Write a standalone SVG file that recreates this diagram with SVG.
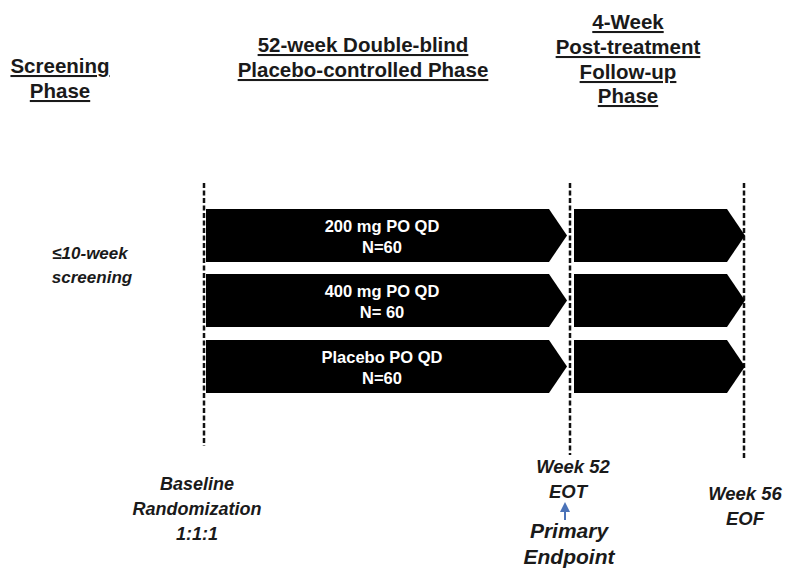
<svg xmlns="http://www.w3.org/2000/svg" width="785" height="572" viewBox="0 0 785 572">
<defs>
<style>
.hdr{font-family:"Liberation Sans",Arial,sans-serif;font-weight:bold;font-size:20.5px;fill:#1a1a1a;text-anchor:middle;text-decoration:underline}
.lbl{font-family:"Liberation Sans",Arial,sans-serif;font-weight:bold;font-size:16.5px;fill:#fff;text-anchor:middle}
.it{font-family:"Liberation Sans",Arial,sans-serif;font-weight:bold;font-style:italic;font-size:18.5px;fill:#1a1a1a;text-anchor:middle}
.big{font-family:"Liberation Sans",Arial,sans-serif;font-weight:bold;font-style:italic;font-size:21px;fill:#1a1a1a;text-anchor:middle}
.dash{stroke:#111;stroke-width:2.5;stroke-dasharray:5 2.5;fill:none}
.arr{fill:#000}
</style>
<marker id="ah" viewBox="0 0 10 10" refX="5" refY="5" markerWidth="5" markerHeight="5" orient="auto">
<path d="M0,0 L10,5 L0,10 z" fill="#4a72b8"/>
</marker>
</defs>
<rect width="785" height="572" fill="#fff"/>
<g id="headers">
<text class="hdr" x="60" y="73">Screening</text>
<text class="hdr" x="60" y="98">Phase</text>
<text class="hdr" x="363" y="52">52-week Double-blind</text>
<text class="hdr" x="363" y="77">Placebo-controlled Phase</text>
<text class="hdr" x="628" y="29">4-Week</text>
<text class="hdr" x="628" y="54">Post-treatment</text>
<text class="hdr" x="628" y="79">Follow-up</text>
<text class="hdr" x="628" y="103">Phase</text>
</g>
<g id="connectors">
<line class="dash" x1="204" y1="183" x2="204" y2="446"/>
<line class="dash" x1="570" y1="183" x2="570" y2="455"/>
<line class="dash" x1="744" y1="183" x2="744" y2="458"/>
<line x1="565" y1="520" x2="565" y2="507" stroke="#4a72b8" stroke-width="2" marker-end="url(#ah)"/>
</g>
<g id="arm1">
<polygon class="arr" points="206,209 549,209 567,235.5 549,262 206,262"/>
<text class="lbl" x="382" y="232">200 mg PO QD</text>
<text class="lbl" x="382" y="253">N=60</text>
</g>
<g id="arm2">
<polygon class="arr" points="206,274 549,274 567,300.5 549,327 206,327"/>
<text class="lbl" x="382" y="297">400 mg PO QD</text>
<text class="lbl" x="382" y="318">N= 60</text>
</g>
<g id="arm3">
<polygon class="arr" points="206,340 549,340 567,366.5 549,393 206,393"/>
<text class="lbl" x="382" y="363">Placebo PO QD</text>
<text class="lbl" x="382" y="384">N=60</text>
</g>
<g id="fu1"><polygon class="arr" points="574,209 727,209 745,235.5 727,262 574,262"/></g>
<g id="fu2"><polygon class="arr" points="574,274 727,274 745,300.5 727,327 574,327"/></g>
<g id="fu3"><polygon class="arr" points="574,340 727,340 745,366.5 727,393 574,393"/></g>
<g id="screening">
<text class="it" x="90" y="259" style="font-size:17px">≤10-week</text>
<text class="it" x="92" y="283" style="font-size:17px">screening</text>
</g>
<g id="baseline">
<text class="it" x="197" y="490" style="font-size:18px">Baseline</text>
<text class="it" x="197" y="515" style="font-size:18px">Randomization</text>
<text class="it" x="197" y="540" style="font-size:18px">1:1:1</text>
</g>
<g id="week52">
<text class="it" x="573" y="473">Week 52</text>
<text class="it" x="568" y="498">EOT</text>
</g>
<g id="primary">
<text class="big" x="569" y="538">Primary</text>
<text class="big" x="569" y="564">Endpoint</text>
</g>
<g id="week56">
<text class="it" x="745" y="500">Week 56</text>
<text class="it" x="745" y="525">EOF</text>
</g>
</svg>
